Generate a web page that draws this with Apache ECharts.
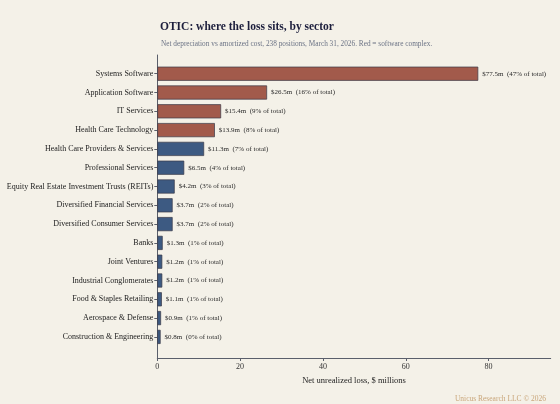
<!DOCTYPE html>
<html>
<head>
<meta charset="utf-8">
<script src="https://cdn.jsdelivr.net/npm/echarts@6/dist/echarts.min.js"></script>
<style>
html,body{margin:0;padding:0;background:#f4f1e8;}
#chart{width:560px;height:404px;}
</style>
</head>
<body>
<div id="chart"></div>
<script>
const categories = [
  "Systems Software",
  "Application Software",
  "IT Services",
  "Health Care Technology",
  "Health Care Providers & Services",
  "Professional Services",
  "Equity Real Estate Investment Trusts (REITs)",
  "Diversified Financial Services",
  "Diversified Consumer Services",
  "Banks",
  "Joint Ventures",
  "Industrial Conglomerates",
  "Food & Staples Retailing",
  "Aerospace & Defense",
  "Construction & Engineering"
];
const lossValues = [77.5, 26.5, 15.4, 13.9, 11.3, 6.5, 4.2, 3.7, 3.7, 1.3, 1.2, 1.2, 1.1, 0.9, 0.8];
const pctOfTotal = [47, 16, 9, 8, 7, 4, 3, 2, 2, 1, 1, 1, 1, 1, 0];
const softwareComplex = [true, true, true, true, false, false, false, false, false, false, false, false, false, false, false];
const xTicks = [0, 20, 40, 60, 80];

const RED = '#a25a4b';
const BLUE = '#3d5a82';
const FONT = '"Liberation Serif", "DejaVu Serif", serif';

const chart = echarts.init(document.getElementById('chart'));
const gridLeft = 157.3, gridWidth = 393.4;

chart.setOption({
  backgroundColor: '#f4f1e8',
  textStyle: { fontFamily: FONT },
  title: [
    { text: 'OTIC: where the loss sits, by sector', left: 155, top: 16,
      textStyle: { fontFamily: FONT, fontSize: 11.5, fontWeight: 'bold', color: '#1c1e3c' } },
    { text: 'Net depreciation vs amortized cost, 238 positions, March 31, 2026. Red = software complex.', left: 156, top: 36,
      textStyle: { fontFamily: FONT, fontSize: 7.3, fontWeight: 'normal', color: '#6b7385' } },
    { text: 'Unicus Research LLC \u00a9 2026', right: 9, top: 390,
      textStyle: { fontFamily: FONT, fontSize: 7.5, fontWeight: 'normal', color: '#c9a67a' } }
  ],
  grid: [
    { left: gridLeft, top: 55, width: gridWidth, height: 303, containLabel: false },
    { left: gridLeft, top: 64.3, width: gridWidth, height: 282, containLabel: false }
  ],
  xAxis: [
    { gridIndex: 0, type: 'value', min: 0, max: 95, interval: 20,
      axisLine: { show: true, lineStyle: { color: '#5a5f6b', width: 1 } },
      axisTick: { show: true, length: 3, lineStyle: { color: '#5a5f6b' },
        customValues: xTicks },
      axisLabel: { color: '#333', fontSize: 8, margin: 5, fontFamily: FONT,
        customValues: xTicks },
      splitLine: { show: false },
      name: 'Net unrealized loss, $ millions', nameLocation: 'middle', nameGap: 17,
      nameTextStyle: { color: '#222', fontSize: 8.5, fontFamily: FONT } },
    { gridIndex: 1, type: 'value', min: 0, max: 95, show: false, splitLine: { show: false } }
  ],
  yAxis: [
    { gridIndex: 0, type: 'value', min: 0, max: 1,
      axisLine: { show: true, lineStyle: { color: '#5a5f6b', width: 1 } },
      axisTick: { show: false }, axisLabel: { show: false }, splitLine: { show: false } },
    { gridIndex: 1, type: 'category', data: categories, inverse: true,
      axisLine: { show: false },
      axisTick: { show: true, alignWithLabel: true, length: 3, lineStyle: { color: '#5a5f6b' } },
      axisLabel: { color: '#222', fontSize: 8, margin: 4, fontFamily: FONT } }
  ],
  series: [{
    type: 'bar',
    xAxisIndex: 1, yAxisIndex: 1,
    data: lossValues.map((v, i) => ({
      value: v,
      itemStyle: { color: softwareComplex[i] ? RED : BLUE }
    })),
    barCategoryGap: '25%',
    itemStyle: { borderColor: '#3a3a48', borderWidth: 0.7 },
    label: {
      show: true, position: 'right', distance: 4,
      fontFamily: FONT, fontSize: 7, color: '#2a2a2a',
      formatter: p => '$' + lossValues[p.dataIndex].toFixed(1) + 'm  (' + pctOfTotal[p.dataIndex] + '% of total)'
    },
    silent: true,
    animation: false
  }],
  animation: false
});
</script>
</body>
</html>
